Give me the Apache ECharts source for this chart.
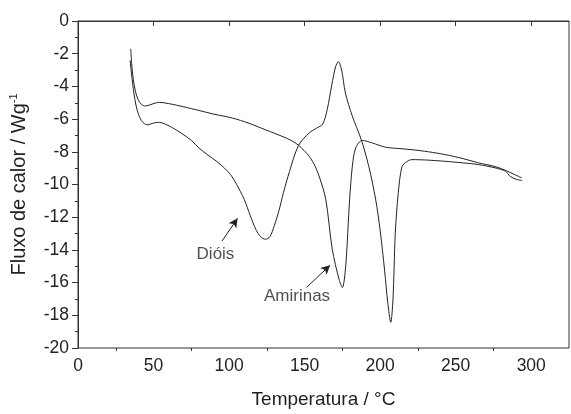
<!DOCTYPE html>
<html>
<head>
<meta charset="utf-8">
<script src="https://cdn.jsdelivr.net/npm/echarts@6/dist/echarts.min.js"></script>
<style>
  html, body { margin: 0; padding: 0; background: #fff; }
  #chart { width: 571px; height: 414px; }
</style>
</head>
<body>
<div id="chart"></div>
<script>
// temperatura (°C) e fluxo de calor (W/g)
var dioisT = [34.5, 35.5, 37, 38.5, 40, 42, 44, 46, 48, 51, 54, 57, 62, 69, 75, 80, 86, 92, 97, 101,
  105, 110, 114, 118, 121, 124, 127, 130, 133, 136, 140, 146, 153, 158, 162, 165, 168, 170.5, 172.3,
  174.5, 177, 181.5, 187.5, 192.5, 197, 200, 203, 205, 207, 208.5, 210, 212, 214.5, 218, 221, 230,
  243, 255, 265, 276, 283, 286, 290, 294];
var dioisV = [-2.4, -3.3, -4.4, -5.2, -5.7, -6.1, -6.28, -6.35, -6.3, -6.22, -6.2, -6.28, -6.5, -6.9,
  -7.3, -7.76, -8.2, -8.6, -9.0, -9.4, -10.0, -10.9, -11.9, -12.8, -13.2, -13.35, -13.2, -12.5, -11.6,
  -10.5, -9.2, -7.6, -6.85, -6.55, -6.3, -5.4, -3.9, -2.8, -2.48, -3.0, -4.4, -5.8, -7.26, -8.9, -10.9,
  -12.8, -15.3, -17.2, -18.43, -17, -13, -10.5, -8.9, -8.58, -8.48, -8.5, -8.58, -8.68, -8.78, -8.98,
  -9.19, -9.5, -9.68, -9.76];

var amirT = [34.9, 35.5, 36.5, 38, 40, 42, 44.5, 47, 51, 54, 60, 70, 80, 90, 102, 113, 124, 135, 141,
  146, 153, 157, 160, 164, 168.3, 172.8, 175, 177.2, 179.8, 181.6, 183.8, 188.2, 194.8, 203.6, 212.4,
  221, 232, 243, 255, 265.2, 276, 282.8, 288, 293.8];
var amirV = [-1.7, -2.6, -3.5, -4.3, -4.85, -5.1, -5.2, -5.15, -5.02, -4.98, -5.05, -5.25, -5.47, -5.7,
  -5.93, -6.25, -6.65, -7.05, -7.3, -7.6, -8.27, -8.9, -9.6, -10.9, -13.96, -15.8, -16.3, -14.98, -10.9,
  -8.88, -7.76, -7.3, -7.46, -7.72, -7.8, -7.87, -8.0, -8.17, -8.42, -8.68, -8.9, -9.13, -9.35, -9.6];

// anotações (setas e rótulos)
var arrowDiois = [[95.3, -13.46], [105.6, -12.07]];
var arrowAmir = [[151.2, -16.3], [166.8, -14.94]];
var labelTexts = ['Dióis', 'Amirinas'];
var labelPos = [[91, -14.3], [145, -16.85]];

var xMajor = [0, 50, 100, 150, 200, 250, 300];
var xMinor = [25, 75, 125, 175, 225, 275];

var font = 'Liberation Sans';
var ink = '#231f20';

function pairs(xs, ys) {
  return xs.map(function (x, i) { return [x, ys[i]]; });
}

var myChart = echarts.init(document.getElementById('chart'));
var option = {
  animation: false,
  grid: {
    left: 78, right: 2, top: 21, bottom: 65,
    show: true, borderColor: '#333', borderWidth: 1
  },
  xAxis: [{
    type: 'value', min: 0, max: 325,
    name: 'Temperatura / °C',
    nameLocation: 'middle', nameGap: 42,
    nameTextStyle: { fontFamily: font, fontSize: 19, color: ink },
    axisLine: { lineStyle: { color: '#333', width: 1 } },
    axisTick: { show: true, length: 5, customValues: xMajor, lineStyle: { color: '#333' } },
    axisLabel: { customValues: xMajor, fontFamily: font, fontSize: 17.5, color: ink, margin: 9 },
    splitLine: { show: false }
  }, {
    type: 'value', min: 0, max: 325, position: 'bottom',
    axisLine: { show: false },
    axisTick: { show: true, length: 3, customValues: xMinor, lineStyle: { color: '#333' } },
    axisLabel: { show: false },
    splitLine: { show: false }
  }],
  yAxis: {
    type: 'value', min: -20, max: 0, interval: 2,
    name: 'Fluxo de calor / Wg{sup|-1}',
    nameLocation: 'middle', nameGap: 48,
    nameTextStyle: {
      fontFamily: font, fontSize: 20, color: ink,
      rich: { sup: { fontFamily: font, fontSize: 11, color: ink, verticalAlign: 'top', padding: [0, 0, 11, 0] } }
    },
    axisLine: { show: true, lineStyle: { color: '#333', width: 1 } },
    axisTick: { show: true, length: 6, lineStyle: { color: '#333' } },
    minorTick: { show: true, splitNumber: 2, length: 3, lineStyle: { color: '#333' } },
    axisLabel: { fontFamily: font, fontSize: 17.5, color: ink, margin: 9 },
    splitLine: { show: false }
  },
  series: [{
    name: 'Dióis', type: 'line', smooth: 0.3, showSymbol: false,
    lineStyle: { color: '#222', width: 1 },
    data: pairs(dioisT, dioisV)
  }, {
    name: 'Amirinas', type: 'line', smooth: 0.3, showSymbol: false,
    lineStyle: { color: '#222', width: 1 },
    data: pairs(amirT, amirV)
  }, {
    name: 'anotacoes', type: 'scatter', symbolSize: 0, silent: true,
    data: labelPos.map(function (p, i) { return [p[0], p[1], labelTexts[i]]; }),
    label: {
      show: true, position: 'inside', fontFamily: font, fontSize: 17, color: ink,
      formatter: function (p) { return p.value[2]; }
    },
    markLine: {
      silent: true, symbol: ['none', 'arrow'], symbolSize: [7, 9],
      lineStyle: { color: '#222', width: 1, type: 'solid' },
      label: { show: false },
      data: [
        [{ coord: arrowDiois[0] }, { coord: arrowDiois[1] }],
        [{ coord: arrowAmir[0] }, { coord: arrowAmir[1] }]
      ]
    }
  }]
};
myChart.setOption(option);
</script>
</body>
</html>
